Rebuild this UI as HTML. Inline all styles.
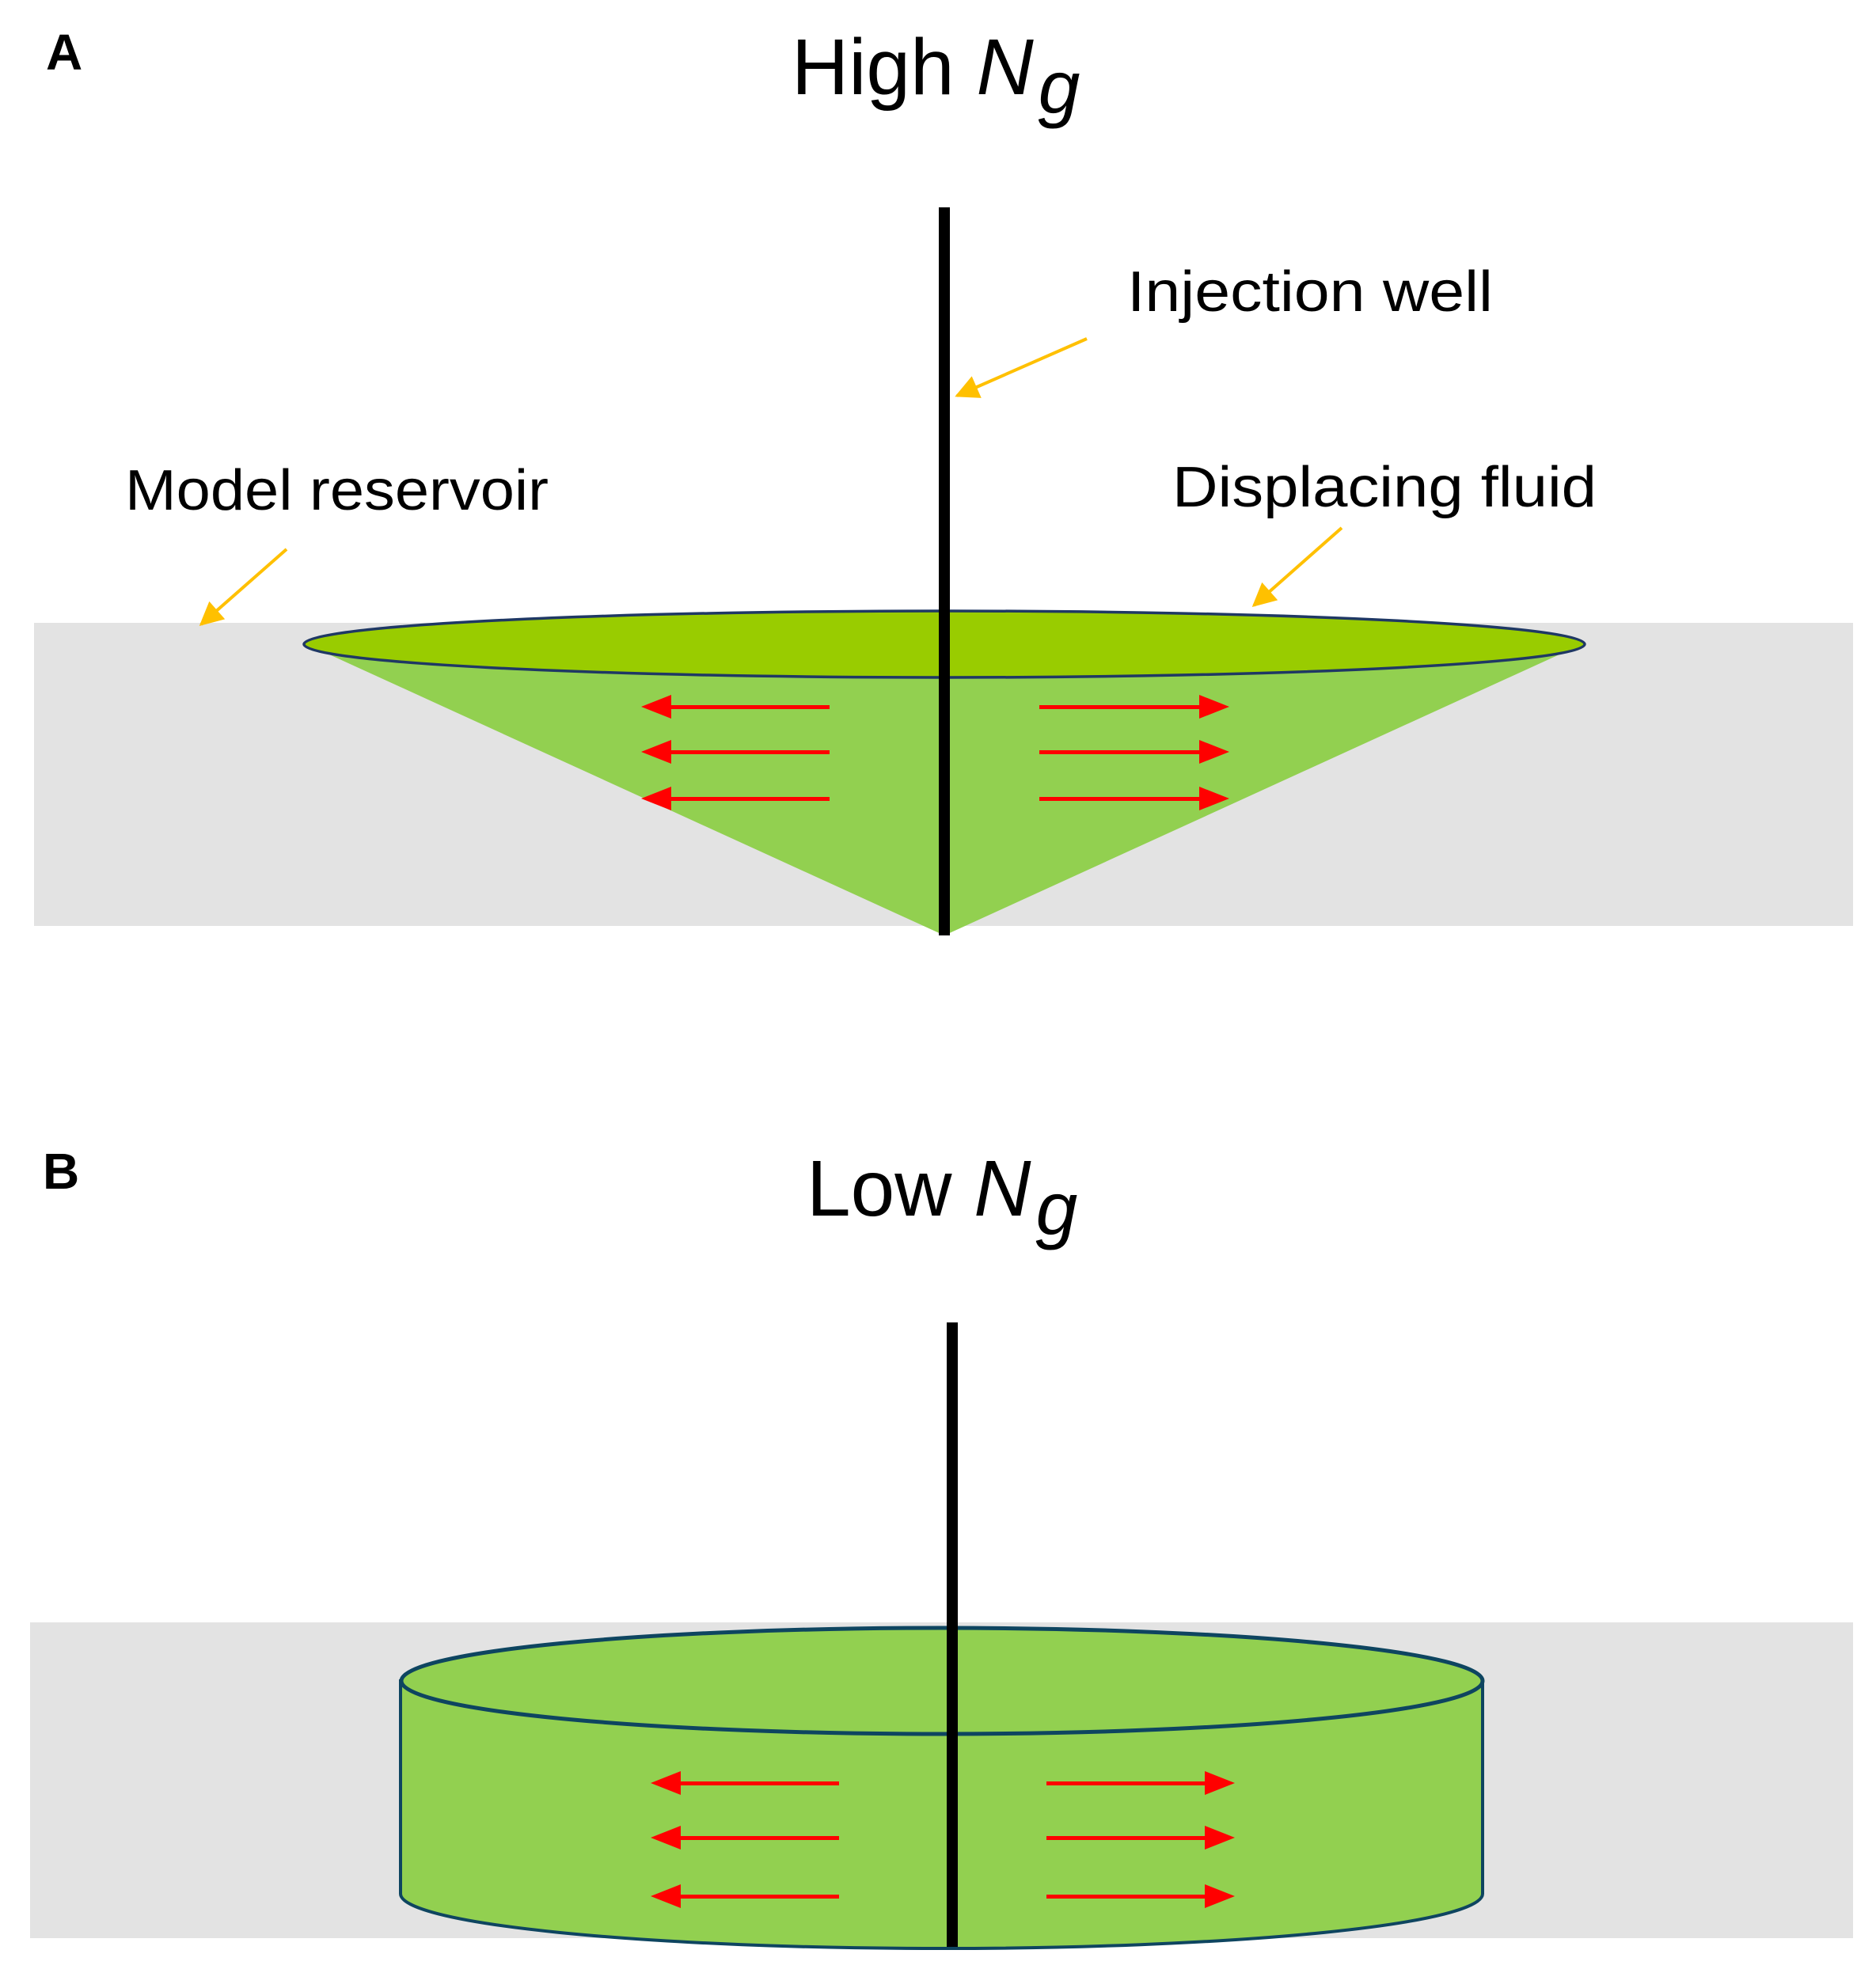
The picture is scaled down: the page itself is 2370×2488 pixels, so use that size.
<!DOCTYPE html>
<html><head><meta charset="utf-8"><style>html,body{margin:0;padding:0;background:#fff}svg{display:block}</style></head>
<body>
<svg width="2370" height="2488" viewBox="0 0 2370 2488" xmlns="http://www.w3.org/2000/svg" font-family="Liberation Sans, sans-serif">
<defs>
<marker id="ya" viewBox="0 0 10 10" refX="9" refY="5" markerWidth="34" markerHeight="30" orient="auto" markerUnits="userSpaceOnUse"><path d="M0,0 L10,5 L0,10 Z" fill="#FFC000"/></marker>
</defs>
<!-- Panel A -->
<text x="58" y="88" font-size="64" font-weight="bold">A</text>
<text x="1000" y="119" font-size="100">High <tspan font-style="italic">N</tspan><tspan font-style="italic" font-size="95" dx="6" dy="24">g</tspan></text>
<rect x="43" y="787" width="2298" height="383" fill="#E3E3E3"/>
<polygon points="405,822 1981,822 1193,1182" fill="#92D050"/>
<ellipse cx="1193" cy="814" rx="809" ry="42" fill="#99CC00" stroke="#1F3864" stroke-width="3.5"/>
<line x1="1193" y1="262" x2="1193" y2="1182" stroke="#000" stroke-width="14"/>
<g fill="#FF0000">
<rect x="840" y="891" width="208" height="5"/><polygon points="810,893 848,878 848,908"/>
<rect x="840" y="948" width="208" height="5"/><polygon points="810,950 848,935 848,965"/>
<rect x="840" y="1007" width="208" height="5"/><polygon points="810,1009 848,994 848,1024"/>
<rect x="1313" y="891" width="210" height="5"/><polygon points="1553,893 1515,878 1515,908"/>
<rect x="1313" y="948" width="210" height="5"/><polygon points="1553,950 1515,935 1515,965"/>
<rect x="1313" y="1007" width="210" height="5"/><polygon points="1553,1009 1515,994 1515,1024"/>
</g>
<text x="1424" y="393" font-size="72" textLength="462" lengthAdjust="spacingAndGlyphs">Injection well</text>
<text x="158" y="644" font-size="72" textLength="535" lengthAdjust="spacingAndGlyphs">Model reservoir</text>
<text x="1481" y="640" font-size="72" textLength="536" lengthAdjust="spacingAndGlyphs">Displacing fluid</text>
<g stroke="#FFC000" stroke-width="4" fill="none">
<line x1="1373" y1="428" x2="1209" y2="500" marker-end="url(#ya)"/>
<line x1="362" y1="694" x2="254" y2="789" marker-end="url(#ya)"/>
<line x1="1695" y1="667" x2="1584" y2="765" marker-end="url(#ya)"/>
</g>
<!-- Panel B -->
<text x="54" y="1502" font-size="64" font-weight="bold">B</text>
<text x="1019" y="1536" font-size="100">Low <tspan font-style="italic">N</tspan><tspan font-style="italic" font-size="95" dx="6" dy="24">g</tspan></text>
<rect x="38" y="2050" width="2303" height="399" fill="#E3E3E3"/>
<path d="M506,2124 L506,2393 A683,69 0 0 0 1873,2393 L1873,2124 Z" fill="#92D050" stroke="#0E4560" stroke-width="4"/>
<ellipse cx="1190" cy="2124" rx="683" ry="67" fill="#92D050" stroke="#0E4560" stroke-width="5"/>
<line x1="1203" y1="1671" x2="1203" y2="2460" stroke="#000" stroke-width="14"/>
<g fill="#FF0000">
<rect x="850" y="2251" width="210" height="5"/><polygon points="822,2253 860,2238 860,2268"/>
<rect x="850" y="2320" width="210" height="5"/><polygon points="822,2322 860,2307 860,2337"/>
<rect x="850" y="2394" width="210" height="5"/><polygon points="822,2396 860,2381 860,2411"/>
<rect x="1322" y="2251" width="210" height="5"/><polygon points="1560,2253 1522,2238 1522,2268"/>
<rect x="1322" y="2320" width="210" height="5"/><polygon points="1560,2322 1522,2307 1522,2337"/>
<rect x="1322" y="2394" width="210" height="5"/><polygon points="1560,2396 1522,2381 1522,2411"/>
</g>
</svg>
</body></html>
